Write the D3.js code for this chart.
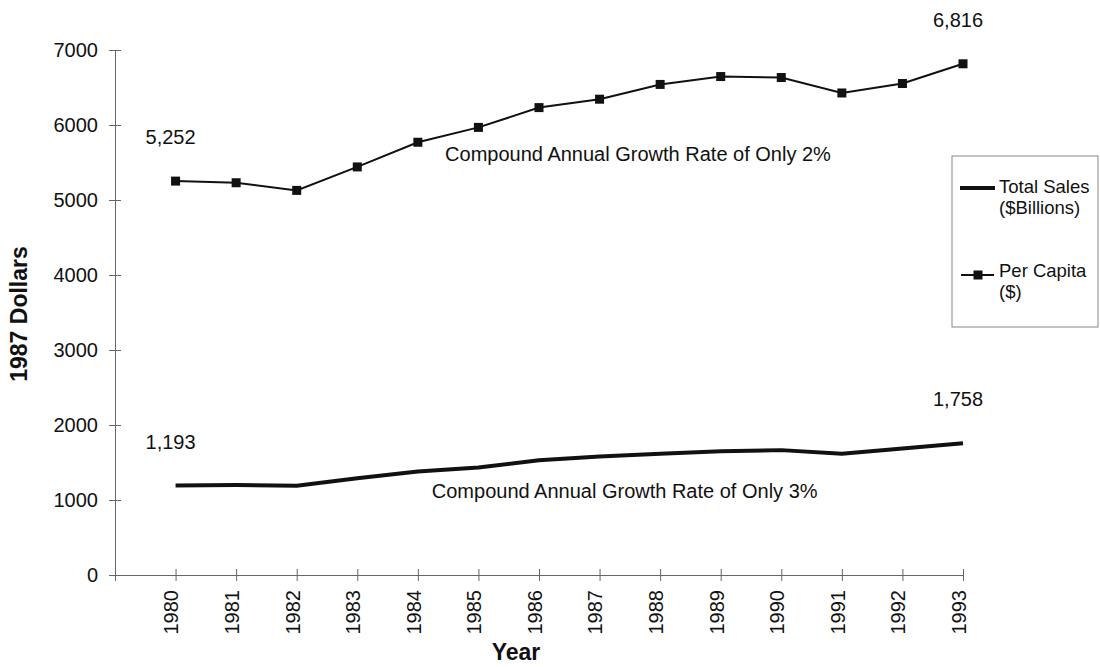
<!DOCTYPE html>
<html>
<head>
<meta charset="utf-8">
<script src="https://cdn.jsdelivr.net/npm/d3@7"></script>
<style>
  body { margin: 0; background: #fff; }
  text { font-family: "Liberation Sans", Arial, sans-serif; fill: #111; }
</style>
</head>
<body>
<div id="chart"></div>
<script>
const YEARS = [1980, 1981, 1982, 1983, 1984, 1985, 1986, 1987, 1988, 1989, 1990, 1991, 1992, 1993];
const TOTAL_SALES = [1193, 1200, 1190, 1289, 1379, 1434, 1530, 1580, 1617, 1650, 1665, 1618, 1687, 1758];
const PER_CAPITA = [5252, 5230, 5128, 5441, 5770, 5968, 6232, 6344, 6541, 6646, 6633, 6427, 6553, 6816];
const Y_TICKS = [0, 1000, 2000, 3000, 4000, 5000, 6000, 7000];
const LEGEND_LABELS = [["Total Sales", "($Billions)"], ["Per Capita", "($)"]];
const GROWTH_NOTES = ["Compound Annual Growth Rate of Only 2%", "Compound Annual Growth Rate of Only 3%"];

const WIDTH = 1100, HEIGHT = 667;
const PLOT = { LEFT: 115, RIGHT: 963, TOP: 50, BOTTOM: 575 };

const svg = d3.select("#chart").append("svg")
    .attr("width", WIDTH)
    .attr("height", HEIGHT);

// Scales: x axis starts one year before the first data point
const x = d3.scaleLinear()
    .domain([YEARS[0] - 1, YEARS[YEARS.length - 1]])
    .range([PLOT.LEFT, PLOT.RIGHT]);
const y = d3.scaleLinear()
    .domain([0, 7000])
    .range([PLOT.BOTTOM, PLOT.TOP]);

const fmt = d3.format(",");

// Y axis
const yAxisG = svg.append("g")
    .attr("transform", `translate(${PLOT.LEFT},0)`)
    .call(d3.axisLeft(y)
        .tickValues(Y_TICKS)
        .tickFormat(d3.format("d"))
        .tickSize(6)
        .tickSizeOuter(0)
        .tickPadding(11));
yAxisG.selectAll(".tick line").attr("x1", 6).attr("stroke", "#666");
yAxisG.select(".domain").attr("stroke", "#666");
yAxisG.selectAll(".tick text")
    .style("font-size", "20px")
    .style("font-family", "'Liberation Sans', Arial, sans-serif")
    .attr("fill", "#111");

// X axis
const xAxisG = svg.append("g")
    .attr("transform", `translate(0,${PLOT.BOTTOM})`)
    .call(d3.axisBottom(x)
        .tickValues([YEARS[0] - 1].concat(YEARS))
        .tickSize(6)
        .tickSizeOuter(0)
        .tickFormat(d => d < YEARS[0] ? "" : d));
xAxisG.selectAll(".tick line").attr("y1", -6).attr("stroke", "#666");
xAxisG.select(".domain").attr("stroke", "#666");
xAxisG.selectAll(".tick text")
    .attr("transform", "rotate(-90)")
    .attr("x", -15)
    .attr("y", 0)
    .attr("dy", "0.12em")
    .style("text-anchor", "end")
    .style("font-size", "20px")
    .style("font-family", "'Liberation Sans', Arial, sans-serif")
    .attr("fill", "#111");

// Axis titles
svg.append("text")
    .attr("x", (PLOT.LEFT + PLOT.RIGHT) / 2 - 23)
    .attr("y", 660)
    .attr("text-anchor", "middle")
    .style("font-size", "23px")
    .style("font-weight", "bold")
    .text("Year");

svg.append("text")
    .attr("transform", "rotate(-90)")
    .attr("x", -314)
    .attr("y", 27)
    .attr("text-anchor", "middle")
    .style("font-size", "23px")
    .style("font-weight", "bold")
    .text("1987 Dollars");

// Lines
const salesData = YEARS.map((yr, i) => ({ year: yr, value: TOTAL_SALES[i] }));
const capitaData = YEARS.map((yr, i) => ({ year: yr, value: PER_CAPITA[i] }));

const line = d3.line()
    .x(d => x(d.year))
    .y(d => y(d.value));

svg.append("path")
    .datum(salesData)
    .attr("fill", "none")
    .attr("stroke", "#111")
    .attr("stroke-width", 4)
    .attr("stroke-linejoin", "round")
    .attr("d", line);

svg.append("path")
    .datum(capitaData)
    .attr("fill", "none")
    .attr("stroke", "#111")
    .attr("stroke-width", 2)
    .attr("d", line);

svg.selectAll(".marker")
    .data(capitaData)
    .join("rect")
    .attr("class", "marker")
    .attr("x", d => x(d.year) - 4.5)
    .attr("y", d => y(d.value) - 4.5)
    .attr("width", 9)
    .attr("height", 9)
    .attr("fill", "#111");

// First / last value labels
const endLabels = [salesData[0], salesData[salesData.length - 1], capitaData[0], capitaData[capitaData.length - 1]];
svg.selectAll(".end-label")
    .data(endLabels)
    .join("text")
    .attr("class", "end-label")
    .attr("x", d => x(d.year) - 5)
    .attr("y", d => y(d.value) - 37)
    .attr("text-anchor", "middle")
    .style("font-size", "20px")
    .text(d => fmt(d.value));

// Growth rate notes
svg.append("text")
    .attr("x", x(1984.45))
    .attr("y", y(5524))
    .style("font-size", "20px")
    .text(GROWTH_NOTES[0]);

svg.append("text")
    .attr("x", x(1984.23))
    .attr("y", y(1027))
    .style("font-size", "20px")
    .text(GROWTH_NOTES[1]);

// Legend
const legend = svg.append("g").attr("transform", "translate(952,156)");
legend.append("rect")
    .attr("width", 146)
    .attr("height", 171)
    .attr("fill", "#fff")
    .attr("stroke", "#888")
    .attr("stroke-width", 1);

legend.append("line")
    .attr("x1", 8).attr("x2", 43)
    .attr("y1", 32).attr("y2", 32)
    .attr("stroke", "#111")
    .attr("stroke-width", 4);

legend.append("line")
    .attr("x1", 9).attr("x2", 42)
    .attr("y1", 119).attr("y2", 119)
    .attr("stroke", "#111")
    .attr("stroke-width", 2);
legend.append("rect")
    .attr("x", 26 - 4.5).attr("y", 119 - 4.5)
    .attr("width", 9).attr("height", 9)
    .attr("fill", "#111");

[37, 121].forEach((top, i) => {
    legend.append("text")
        .attr("x", 47)
        .attr("y", top)
        .style("font-size", "18.5px")
        .text(LEGEND_LABELS[i][0]);
    legend.append("text")
        .attr("x", 47)
        .attr("y", top + 21)
        .style("font-size", "18.5px")
        .text(LEGEND_LABELS[i][1]);
});
</script>
</body>
</html>
